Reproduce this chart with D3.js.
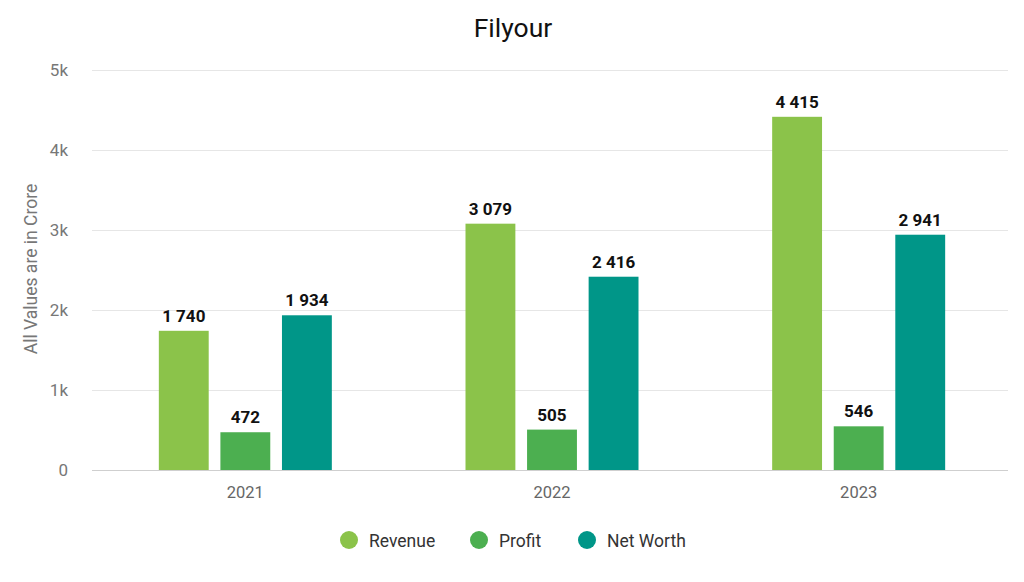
<!DOCTYPE html>
<html><head><meta charset="utf-8">
<script src="https://cdn.jsdelivr.net/npm/d3@7"></script>
<style>body{margin:0;background:#fff;font-family:Roboto,"Noto Sans",sans-serif;}</style>
</head><body><svg id="c" width="1024" height="582"></svg>
<script>
const categories = ["2021","2022","2023"];
const seriesNames = ["Revenue","Profit","Net Worth"];
const revenue = [1740,3079,4415];
const profit = [472,505,546];
const netWorth = [1934,2416,2941];
const yTicks = [0,1000,2000,3000,4000,5000];
const yTickLabels = ["0","1k","2k","3k","4k","5k"];
const colors = ["#8BC34A","#4CAF50","#009688"];
const seriesValues = [revenue, profit, netWorth];

(function(){
const svg = d3.select("#c");
const pLeft = 92, pRight = 1012, pTop = 70, pBottom = 470;
const x0 = d3.scaleBand().domain(categories).range([pLeft, pRight]);
const x1 = d3.scaleBand().domain(seriesNames).range([0, 173]).paddingInner(0.19);
const y = d3.scaleLinear().domain([0,5000]).range([pBottom, pTop]);

svg.append("text").attr("x",513).attr("y",37).attr("text-anchor","middle")
  .attr("font-size",26.5).attr("fill","#111").text("Filyour");

const yAxis = svg.append("g").attr("transform",`translate(${pLeft},0)`)
  .call(d3.axisLeft(y).tickValues(yTicks).tickFormat((d,i)=>yTickLabels[i]).tickSize(-(pRight-pLeft-4)).tickPadding(24));
yAxis.select(".domain").remove();
yAxis.selectAll(".tick line").attr("stroke",(d)=>d===0?"#cfcfcf":"#e6e6e6").attr("stroke-width",1);
yAxis.selectAll(".tick text").attr("font-size",17).attr("fill","#777").attr("font-family","Roboto");

svg.append("text").attr("transform","translate(37,269) rotate(-90)").attr("text-anchor","middle")
  .attr("font-size",17.5).attr("fill","#777").text("All Values are in Crore");

const xAxis = svg.append("g").attr("transform",`translate(0,${pBottom})`)
  .call(d3.axisBottom(x0).tickSize(0).tickPadding(16));
xAxis.select(".domain").remove();
xAxis.selectAll(".tick text").attr("font-size",16.5).attr("fill","#666").attr("font-family","Roboto");

categories.forEach((cat,ci)=>{
  const gx = x0(cat) + x0.bandwidth()/2 - 86.5;
  seriesNames.forEach((s,si)=>{
    const v = seriesValues[si][ci];
    svg.append("rect").attr("x",gx + x1(s)).attr("y",y(v)).attr("width",x1.bandwidth())
      .attr("height",pBottom - y(v)).attr("fill",colors[si]);
    svg.append("text").attr("x",gx + x1(s) + x1.bandwidth()/2).attr("y",y(v)-9)
      .attr("text-anchor","middle").attr("font-size",17).attr("font-weight","bold").attr("fill","#111")
      .text(d3.format(",")(v).replace(",", " "));
  });
});

const legendX = [349,479,587];
seriesNames.forEach((s,i)=>{
  svg.append("circle").attr("cx",legendX[i]).attr("cy",540).attr("r",9).attr("fill",colors[i]);
  svg.append("text").attr("x",legendX[i]+20).attr("y",546.5).attr("font-size",17.5).attr("fill","#333").text(s);
});
})();
</script></body></html>
